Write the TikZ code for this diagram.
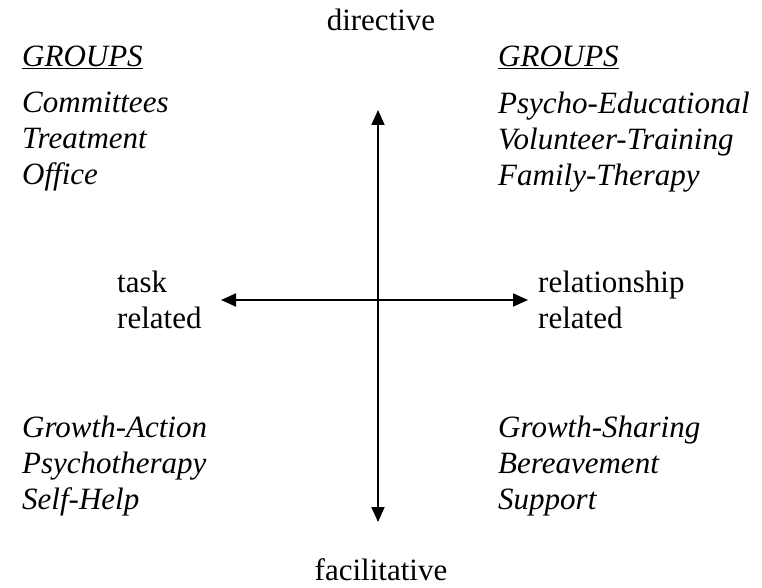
\documentclass[tikz,border=0pt]{standalone}
\usepackage{fontspec}
\setmainfont{Liberation Serif}
\usetikzlibrary{arrows.meta}
\tikzset{
  qd text/.style={font=\fontsize{31}{36}\selectfont, text=black},
  qd axis/.style={{Triangle[length=15pt,width=13pt]}-{Triangle[length=15pt,width=13pt]},
    line width=1.8pt, draw=black},
  qd list/.style={font=\fontsize{31}{36}\selectfont\itshape, align=left,
    anchor=west, inner sep=0pt},
  qd head/.style={font=\fontsize{31}{36}\selectfont\itshape, anchor=west, inner sep=0pt},
  qd pole/.style={font=\fontsize{31}{36}\selectfont, inner sep=0pt},
  qd side/.style={font=\fontsize{31}{36}\selectfont, align=left, anchor=west, inner sep=0pt}
}
\begin{document}
\begin{tikzpicture}[qd text, x=1pt, y=-1pt]
  \useasboundingbox (0,0) rectangle (762,588);
  % the two axes
  \coordinate (north) at (378,110);
  \coordinate (south) at (378,522);
  \coordinate (west) at (221,300);
  \coordinate (east) at (528,300);
  \draw[qd axis] (north) -- (south);
  \draw[qd axis] (west) -- (east);
  % poles
  \node[qd pole] (dir) at (381,20) {directive};
  \node[qd pole] (fac) at (381,570) {facilitative};
  \node[qd side] (task) at (117,300) {task\\related};
  \node[qd side] (rel) at (538,300) {relationship\\related};
  % column heads
  \node[qd head] (headL) at (22,57) {\underline{GROUPS}};
  \node[qd head] (headR) at (498,57) {\underline{GROUPS}};
  % quadrants
  \node[qd list] (nw) at (22,142) {Committees\\Treatment\\Office};
  \node[qd list] (ne) at (498,142) {Psycho-Educational\\Volunteer-Training\\Family-Therapy};
  \node[qd list] (sw) at (22,466) {Growth-Action\\Psychotherapy\\Self-Help};
  \node[qd list] (se) at (498,466) {Growth-Sharing\\Bereavement\\Support};
\end{tikzpicture}
\end{document}
